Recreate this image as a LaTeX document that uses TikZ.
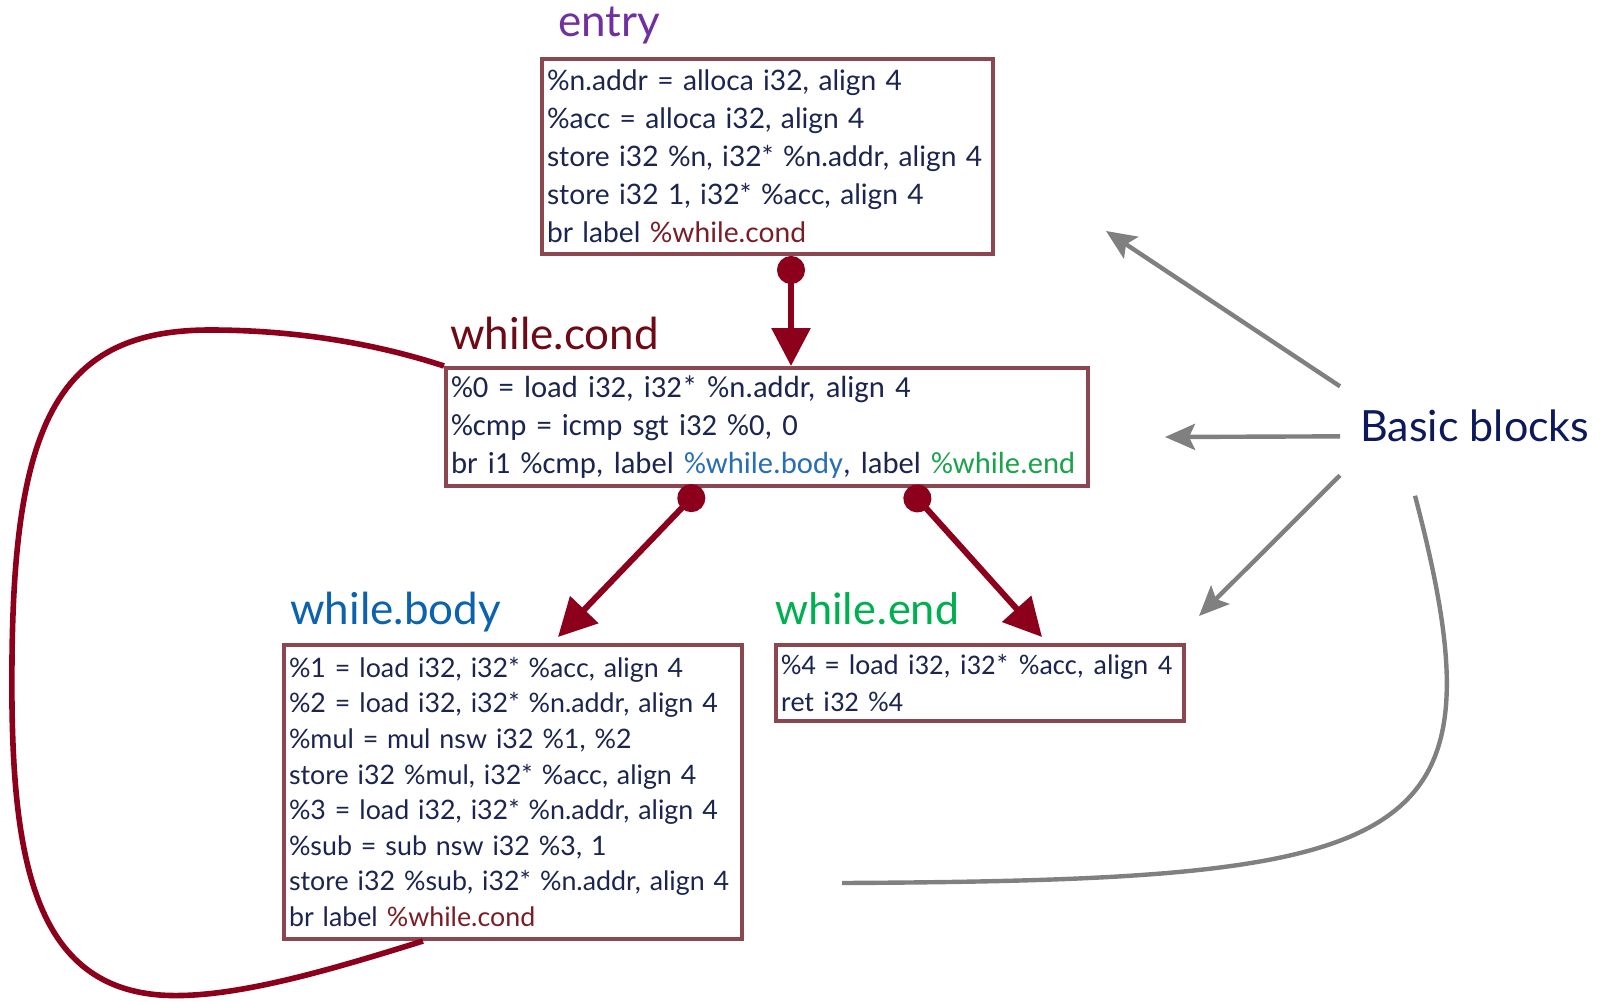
\documentclass[tikz,border=0pt]{standalone}
\usepackage{fontspec}
\setmainfont{Carlito}
\newfontfamily\gillfont{Lato}
\usepackage{tikz}
\usetikzlibrary{arrows.meta, calc, positioning}
\definecolor{boxred}{RGB}{139,70,80}
\definecolor{flowred}{RGB}{140,0,28}
\definecolor{codenavy}{RGB}{27,37,80}
\definecolor{entrypurple}{RGB}{112,48,160}
\definecolor{condred}{RGB}{110,10,22}
\definecolor{labred}{RGB}{122,30,38}
\definecolor{bodyblue}{RGB}{11,98,174}
\definecolor{labblue}{RGB}{40,110,180}
\definecolor{endgreen}{RGB}{0,176,80}
\definecolor{labgreen}{RGB}{27,163,75}
\definecolor{bbnavy}{RGB}{12,26,92}
\definecolor{hintgray}{RGB}{128,128,128}
\tikzset{>={Triangle[length=19pt,width=19pt]}}
\tikzset{
  bblock/.style={draw=boxred, line width=2pt, fill=white, anchor=north west,
    align=left, inner xsep=2.5pt, inner ysep=0pt, text=codenavy},
  flow/.style={flowred, line width=3pt, {Circle[length=14pt]}->},
  hint/.style={hintgray, line width=2.2pt, -{Stealth[length=15pt,width=13pt,inset=3pt]}},
  bbtitle/.style={anchor=base west, inner sep=0pt, font=\gillfont\fontsize{22}{26}\selectfont},
}

\begin{document}
\begin{tikzpicture}[x=0.5pt, y=-0.5pt]
  \useasboundingbox (0,0) rectangle (1610,1001);
  \fill[white] (0,0) rectangle (1610,1001);

  % the four blocks
  \node[bblock, text width=220.5pt, minimum height=97.5pt,
        font=\gillfont\fontsize{14.1}{19}\selectfont] (entry) at (540,57) {
    \%n.addr = alloca i32, align 4\\
    \%acc = alloca i32, align 4\\
    store i32 \%n, i32* \%n.addr, align 4\\
    store i32 1, i32* \%acc, align 4\\
    br label \textcolor{labred}{\%while.cond}};
  \node[bblock, text width=316pt, minimum height=59pt,
        font=\fontsize{15.3}{19}\selectfont] (cond) at (444,366) {
    \%0 = load i32, i32* \%n.addr, align 4\\
    \%cmp = icmp sgt i32 \%0, 0\\
    br i1 \%cmp, label \textcolor{labblue}{\%while.body}, label \textcolor{labgreen}{\%while.end}};
  \node[bblock, text width=224pt, minimum height=147pt,
        font=\gillfont\fontsize{13.4}{17.8}\selectfont] (body) at (282,643) {
    \%1 = load i32, i32* \%acc, align 4\\
    \%2 = load i32, i32* \%n.addr, align 4\\
    \%mul = mul nsw i32 \%1, \%2\\
    store i32 \%mul, i32* \%acc, align 4\\
    \%3 = load i32, i32* \%n.addr, align 4\\
    \%sub = sub nsw i32 \%3, 1\\
    store i32 \%sub, i32* \%n.addr, align 4\\
    br label \textcolor{labred}{\%while.cond}};
  \node[bblock, text width=199pt, minimum height=38pt,
        font=\fontsize{14.2}{18.5}\selectfont] (exit) at (774,643) {
    \%4 = load i32, i32* \%acc, align 4\\
    ret i32 \%4};

  % block names
  \node[bbtitle, text=entrypurple] (entrylbl) at (558,36) {entry};
  \node[bbtitle, text=condred] (condlbl) at (450,349) {while.cond};
  \node[bbtitle, text=bodyblue] (bodylbl) at (290,624) {while.body};
  \node[bbtitle, text=endgreen, font=\fontsize{23}{27}\selectfont] (exitlbl) at (775,624) {while.end};
  \node[bbtitle, text=bbnavy, font=\gillfont\fontsize{21.5}{26}\selectfont] (bb) at (1360,441) {Basic blocks};

  % control flow
  \draw[flow] ([xshift=11.75pt]entry.south) -- ([xshift=11.75pt]entry.south |- cond.north);
  \draw[flow] ([xshift=-33pt]cond.south) -- ([xshift=22.5pt,yshift=3pt]body.north);
  \draw[flow] ([xshift=70.5pt]cond.south) -- ([xshift=31pt,yshift=3pt]exit.north);
  \draw[flowred, line width=2.8pt] ([xshift=-45pt]body.south)
    .. controls (330,970) and (230,1000) .. (160,995)
    .. controls (30,985) and (10,850) .. (12,660)
    .. controls (14,420) and (60,330) .. (210,330)
    .. controls (300,330) and (380,345) .. (cond.north west);

  % pointers to the blocks
  \coordinate (toentry) at (1106,231);
  \coordinate (tocond) at (1165,437);
  \coordinate (toexit) at (1199,616);
  \coordinate (tobody) at (842,883);
  \draw[hint] ([shift={(-20,-39)}]bb.west) -- (toentry);
  \draw[hint] ([shift={(-20,11)}]bb.west) -- (tocond);
  \draw[hint] ([shift={(-20,50)}]bb.west) -- (toexit);
  \draw[hintgray, line width=2.2pt] ([shift={(55,54)}]bb.south west)
    .. controls (1508,850) and (1420,880) .. (tobody);
\end{tikzpicture}
\end{document}
